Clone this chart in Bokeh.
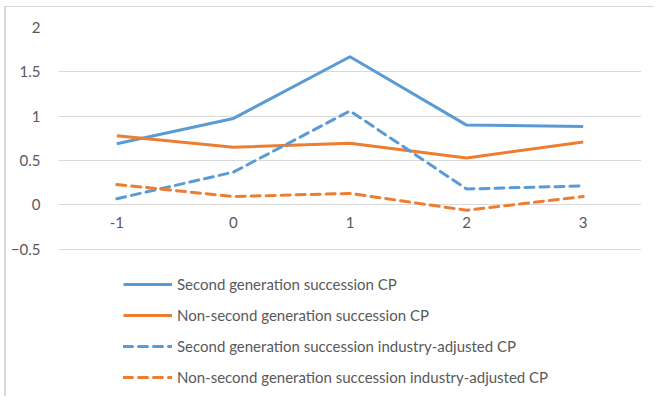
from bokeh.plotting import figure
from bokeh.models import FixedTicker, Legend, LegendItem, ColumnDataSource
from bokeh.embed import file_html
from bokeh.resources import INLINE

# ---- data ----
periods = ["-1", "0", "1", "2", "3"]
second_gen_cp = [0.69, 0.975, 1.67, 0.90, 0.885]
non_second_gen_cp = [0.78, 0.65, 0.695, 0.53, 0.71]
second_gen_adj_cp = [0.07, 0.37, 1.06, 0.18, 0.215]
non_second_gen_adj_cp = [0.23, 0.095, 0.13, -0.06, 0.095]
y_ticks = [-0.5, 0, 0.5, 1, 1.5, 2]
series_names = [
    "Second generation succession CP",
    "Non-second generation succession CP",
    "Second generation succession industry-adjusted CP",
    "Non-second generation succession industry-adjusted CP",
]

BLUE = "#5B9BD5"
ORANGE = "#ED7D31"
TEXT = "#595959"
GRID = "#D9D9D9"
FONT = "Lato"

# frame extends to the bottom of the canvas so the legend sits inside it;
# only ticks -0.5..2 are shown
p = figure(
    x_range=periods, y_range=(-2.17, 2),
    width=650, height=390,
    output_backend="svg", toolbar_location=None,
    min_border_left=52, min_border_right=15,
    min_border_top=20, min_border_bottom=0,
)
p.margin = (6, 0, 0, 4)
p.styles = {"border-top": "1px solid #D9D9D9", "border-left": "2px solid #D9D9D9"}
p.outline_line_color = None
p.x_range.range_padding = 0

p.xgrid.grid_line_color = None
p.ygrid.grid_line_color = GRID
p.ygrid.grid_line_width = 1

p.yaxis.ticker = FixedTicker(ticks=y_ticks)
p.yaxis.axis_line_color = None
p.yaxis.major_tick_line_color = None
p.yaxis.minor_tick_line_color = None
p.yaxis.major_label_standoff = 12
p.yaxis.major_label_text_color = TEXT
p.yaxis.major_label_text_font = FONT
p.yaxis.major_label_text_font_size = "15px"

p.xaxis.fixed_location = 0
p.xaxis.axis_line_color = None
p.xaxis.major_tick_line_color = None
p.xaxis.minor_tick_line_color = None
p.xaxis.major_label_standoff = 6
p.xaxis.major_label_text_color = TEXT
p.xaxis.major_label_text_font = FONT
p.xaxis.major_label_text_font_size = "15px"

src = ColumnDataSource(dict(
    x=periods, a=second_gen_cp, b=non_second_gen_cp,
    c=second_gen_adj_cp, d=non_second_gen_adj_cp,
))

r1 = p.line("x", "a", source=src, line_color=BLUE, line_width=3, line_join="round")
r2 = p.line("x", "b", source=src, line_color=ORANGE, line_width=3, line_join="round")
r3 = p.line("x", "c", source=src, line_color=BLUE, line_width=3, line_dash="9 6",
            line_cap="round", line_join="round")
r4 = p.line("x", "d", source=src, line_color=ORANGE, line_width=3, line_dash="9 6",
            line_cap="round", line_join="round")

legend = Legend(
    items=[LegendItem(label=n, renderers=[r]) for n, r in zip(series_names, [r1, r2, r3, r4])],
    location=(65, 10),
    orientation="vertical",
    border_line_color=None,
    background_fill_alpha=0,
    padding=0, margin=0,
    glyph_width=49, glyph_height=20, label_height=20,
    spacing=11, label_standoff=5,
    label_text_font=FONT, label_text_font_size="15px", label_text_color=TEXT,
)
p.add_layout(legend)

open("out.html", "w").write(file_html(p, INLINE))
